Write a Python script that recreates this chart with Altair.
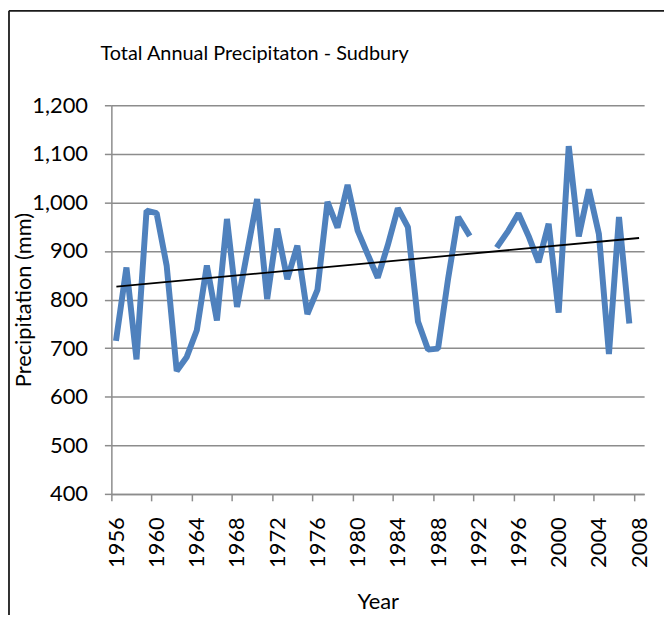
import altair as alt
import pandas as pd

years = list(range(1956, 2009))
precip = [721, 866, 677, 983, 978, 870, 653, 682, 737, 870,
          757, 966, 785, 896, 1007, 801, 946, 842, 911, 770,
          820, 1001, 948, 1036, 942, 893, 845, 912, 988, 949,
          755, 697, 699, 843, 970, 936, None, None, 912, 942,
          977, 931, 877, 956, 773, 1116, 930, 1027, 935, 688,
          970, 757, None]
y_ticks = list(range(400, 1201, 100))
boundaries = [y - 0.5 for y in range(1956, 2010)]

df = pd.DataFrame({"year": years, "precip": precip})

GRID = "#8c8c8c"
FONT = "Lato"

x_enc = alt.X(
    "year:Q",
    scale=alt.Scale(domain=[1955.5, 2008.5], nice=False, zero=False),
    axis=alt.Axis(
        values=boundaries,
        labelExpr="((datum.value + 0.5 - 1956) % 4 == 0) ? toString(datum.value + 0.5) : ''",
        labelOffset=5.06,
        labelAngle=270,
        labelAlign="right",
        labelBaseline="middle",
        labelFlush=False,
        labelOverlap=False,
        labelPadding=16,
        tickSize=7,
        tickColor=GRID,
        tickWidth=1.5,
        domainColor=GRID,
        domainWidth=1.5,
        grid=False,
        title="Year",
        titleX=268,
        titleY=115,
        titleAlign="center",
        titleBaseline="alphabetic",
    ),
)

y_enc = alt.Y(
    "precip:Q",
    scale=alt.Scale(domain=[400, 1200], nice=False, zero=False),
    axis=alt.Axis(
        values=y_ticks,
        format=",d",
        grid=True,
        gridColor=GRID,
        gridWidth=1.5,
        tickSize=7,
        tickColor=GRID,
        tickWidth=1.5,
        domainColor=GRID,
        domainWidth=1.5,
        labelPadding=17,
        title="Precipitation (mm)",
        titleX=-88,
        titleY=195.5,
        titleAngle=270,
        titleAlign="center",
        titleBaseline="middle",
    ),
)

one = alt.Data(values=[{"k": 1}])
frame_left = alt.Chart(one).mark_rule(color="#1a1a1a", strokeWidth=1.8).encode(
    x=alt.value(-103), y=alt.value(-95), y2=alt.value(560),
)
frame_top = alt.Chart(one).mark_rule(color="#1a1a1a", strokeWidth=1.8).encode(
    x=alt.value(-103), x2=alt.value(620), y=alt.value(-95),
)

line = alt.Chart(df).transform_filter(
    "datum.precip != null"
).transform_calculate(
    seg="datum.year < 1992 ? 'a' : 'b'"
).mark_line(
    color="#4F81BD", strokeWidth=6, strokeJoin="bevel", strokeCap="square"
).encode(x=x_enc, y=y_enc, detail="seg:N")

trend = alt.Chart(df).transform_filter(
    "datum.precip != null"
).transform_regression(
    "year", "precip", extent=[1956, 2008]
).mark_line(color="black", strokeWidth=1.8).encode(
    x=alt.X("year:Q"), y=alt.Y("precip:Q")
)

chart = alt.layer(frame_left, frame_top, line, trend).properties(
    width=536,
    height=391,
    background="white",
    autosize=alt.AutoSizeParams(type="none"),
    padding={"left": 104, "top": 96, "right": 20, "bottom": 120},
    title=alt.TitleParams(
        "Total Annual Precipitaton - Sudbury",
        anchor="start",
        frame="group",
        dx=-11,
        offset=-70,
        baseline="alphabetic",
        font=FONT,
        fontSize=20,
        fontWeight="normal",
        color="black",
    ),
).configure_view(stroke=None).configure_axis(
    labelFont=FONT, labelFontSize=22, labelColor="black",
    titleFont=FONT, titleFontSize=22, titleFontWeight="normal", titleColor="black",
)

chart.save("out.html", embed_options={"renderer": "svg", "actions": False})
